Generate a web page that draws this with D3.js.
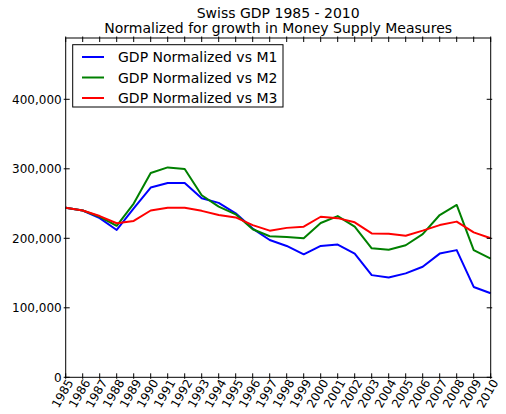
<!DOCTYPE html>
<html>
<head>
<meta charset="utf-8">
<script src="https://cdn.jsdelivr.net/npm/d3@7"></script>
<style>
  body { margin: 0; background: #fff; }
  svg { font-family: "DejaVu Sans", sans-serif; }
</style>
</head>
<body>
<div id="chart"></div>
<script>
// swiss gdp normalized by money supply
const years = d3.range(1985, 2011)
const yTicks = [0, 100000, 200000, 300000, 400000]

const m1 = [244000, 240000, 229000, 212000, 243000, 273000, 279600, 279600, 257500, 251000, 236000, 214000, 197500,
  189000, 177000, 189000, 191000, 178000, 147000, 143500, 149500, 159000, 178000, 183000, 130000, 121000]
const m2 = [244000, 240000, 231000, 218000, 250000, 294000, 302000, 299700, 262000, 245500, 234500, 213000, 203000,
  202000, 200000, 222000, 232000, 216700, 185600, 183600, 190000, 206000, 233500, 248000, 183000, 170700]
const m3 = [244000, 240000, 232000, 221600, 225000, 240000, 244000, 244000, 239500, 233500, 230000, 219000, 211000,
  215000, 216700, 231000, 229000, 223000, 207000, 206600, 203700, 211000, 219000, 224000, 208600, 200000]

const seriesNames = ['GDP Normalized vs M1', 'GDP Normalized vs M2', 'GDP Normalized vs M3']
const seriesColors = ['#0000ff', '#008000', '#ff0000']
const series = [m1, m2, m3]

const width = 506, height = 414
const plotLeft = 65.7, plotRight = 490.7, plotTop = 38, plotBottom = 377.3

const svg = d3.select('#chart').append('svg')
  .attr('width', width).attr('height', height)

const scaleX = d3.scaleLinear().domain([1985, 2010]).range([plotLeft, plotRight])
const scaleY = d3.scaleLinear().domain([0, 488200]).range([plotBottom, plotTop])

// title
svg.append('text').attr('x', (plotLeft + plotRight) / 2).attr('y', 18)
  .attr('text-anchor', 'middle').attr('font-size', 14)
  .text('Swiss GDP 1985 - 2010')
svg.append('text').attr('x', (plotLeft + plotRight) / 2).attr('y', 32.5)
  .attr('text-anchor', 'middle').attr('font-size', 14)
  .text('Normalized for growth in Money Supply Measures')

// lines
let line = d3.line()
  .x((d, i) => scaleX(years[i]))
  .y(d => scaleY(d))

series.forEach((s, k) => {
  svg.append('path')
    .attr('d', line(s))
    .attr('fill', 'none')
    .attr('stroke', seriesColors[k])
    .attr('stroke-width', 2)
    .attr('stroke-linejoin', 'round')
})

// frame
svg.append('rect')
  .attr('x', plotLeft).attr('y', plotTop)
  .attr('width', plotRight - plotLeft).attr('height', plotBottom - plotTop)
  .attr('fill', 'none').attr('stroke', '#000').attr('stroke-width', 1)

// ticks, matplotlib style: inward on all four sides
const ticks = svg.append('g').attr('stroke', '#000').attr('stroke-width', 1)
ticks.selectAll('.xb').data(years).enter().append('line')
  .attr('x1', d => scaleX(d)).attr('x2', d => scaleX(d))
  .attr('y1', plotBottom + 1.5).attr('y2', plotBottom - 4)
ticks.selectAll('.xt').data(years).enter().append('line')
  .attr('x1', d => scaleX(d)).attr('x2', d => scaleX(d))
  .attr('y1', plotTop - 1.5).attr('y2', plotTop + 4)
ticks.selectAll('.yl').data(yTicks).enter().append('line')
  .attr('x1', plotLeft - 2).attr('x2', plotLeft + 4)
  .attr('y1', d => scaleY(d)).attr('y2', d => scaleY(d))
ticks.selectAll('.yr').data(yTicks).enter().append('line')
  .attr('x1', plotRight + 1.5).attr('x2', plotRight - 4)
  .attr('y1', d => scaleY(d)).attr('y2', d => scaleY(d))

// y labels
const fmt = d3.format(',')
svg.append('g').selectAll('text')
  .data(yTicks)
  .enter()
  .append('text')
  .attr('x', plotLeft - 4)
  .attr('y', d => scaleY(d) + 4.5)
  .attr('text-anchor', 'end')
  .attr('font-size', 12)
  .text(d => fmt(d))

// x labels rotated
svg.append('g').selectAll('text')
  .data(years)
  .enter()
  .append('text')
  .attr('transform', d => `translate(${scaleX(d) + 8},${plotBottom + 5}) rotate(-60)`)
  .attr('text-anchor', 'end')
  .attr('font-size', 12)
  .text(d => d)

// legend
const lg = svg.append('g')
lg.append('rect')
  .attr('x', 72.7).attr('y', 44.7).attr('width', 210.3).attr('height', 62.3)
  .attr('fill', '#fff').attr('stroke', '#000').attr('stroke-width', 1)
seriesNames.forEach((name, k) => {
  const y = 57 + k * 20.5
  lg.append('line')
    .attr('x1', 82).attr('x2', 104).attr('y1', y).attr('y2', y)
    .attr('stroke', seriesColors[k]).attr('stroke-width', 2)
  lg.append('text')
    .attr('x', 118).attr('y', y + 5)
    .attr('font-size', 14)
    .text(name)
})
</script>
</body>
</html>
